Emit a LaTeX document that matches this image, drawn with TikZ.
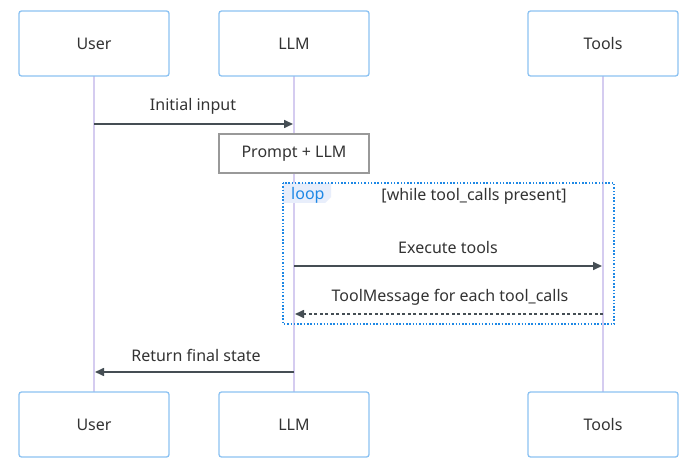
\documentclass[tikz,border=0pt]{standalone}
\usepackage{fontspec}
\setmainfont{Noto Sans}
\usetikzlibrary{arrows.meta}
\definecolor{boxblue}{HTML}{8CC2F2}
\definecolor{life}{HTML}{D5CCF0}
\definecolor{txt}{HTML}{333333}
\definecolor{arr}{HTML}{454E54}
\definecolor{loopblue}{HTML}{1E88E5}
\definecolor{loopbg}{HTML}{E8EEFB}
\begin{document}
\begin{tikzpicture}[x=1pt,y=-1pt,
  actor/.style={draw=boxblue,line width=1.3pt,rounded corners=2.5pt,minimum width=150pt,minimum height=65pt,inner sep=0pt,font=\fontsize{16}{18}\selectfont,text=txt},
  lifeline/.style={draw=life,line width=1.3pt},
  msg/.style={draw=arr,line width=1.6pt,-{Triangle[length=9pt,width=8pt]}},
  dmsg/.style={msg,dash pattern=on 3pt off 2.5pt},
  lbl/.style={font=\fontsize{16}{18}\selectfont,text=txt,inner sep=0pt},
  note/.style={draw=black!40,line width=1.3pt,fill=white,minimum width=150pt,minimum height=39pt,inner sep=0pt,font=\fontsize{16}{18}\selectfont,text=txt}]
\useasboundingbox (0,0) rectangle (698,470);
\fill[white] (0,0) rectangle (698,470);
% lifelines
\coordinate (u1) at (94,76); \coordinate (u2) at (94,392);
\coordinate (l1) at (294,76); \coordinate (l2) at (294,392);
\coordinate (t1) at (603,76); \coordinate (t2) at (603,392);
\draw[lifeline] (u1) -- (u2);
\draw[lifeline] (l1) -- (l2);
\draw[lifeline] (t1) -- (t2);
% actors
\node[actor] (userT) at (94,43.5) {User};
\node[actor] (llmT) at (294,43.5) {LLM};
\node[actor] (toolsT) at (603,43.5) {Tools};
\node[actor] (userB) at (94,424.5) {User};
\node[actor] (llmB) at (294,424.5) {LLM};
\node[actor] (toolsB) at (603,424.5) {Tools};
% initial input
\coordinate (a1s) at (94,124); \coordinate (a1e) at (293,124);
\draw[msg] (a1s) -- (a1e);
\node[lbl] (a1l) at (193,106) {Initial input};
% note
\node[note] (prompt) at (294,153.5) {Prompt + LLM};
% loop
\coordinate (lpA) at (283,183); \coordinate (lpB) at (614,324);
\fill[loopbg] (283,183) -- (331,183) -- (331,197) -- (325,203) -- (283,203) -- cycle;
\draw[loopblue,line width=1.3pt,dash pattern=on 1.5pt off 1.8pt] (lpA) rectangle (lpB);
\node[lbl,text=loopblue,anchor=west] (looplbl) at (291,195) {loop};
\node[lbl] (cond) at (474,196) {[while tool\_calls present]};
% execute tools
\coordinate (a2s) at (294,266); \coordinate (a2e) at (602,266);
\draw[msg] (a2s) -- (a2e);
\node[lbl] (a2l) at (448,248) {Execute tools};
% tool message
\coordinate (a3s) at (603,314); \coordinate (a3e) at (295,314);
\draw[dmsg] (a3s) -- (a3e);
\node[lbl] (a3l) at (450,297) {ToolMessage for each tool\_calls};
% return
\coordinate (a4s) at (294,372); \coordinate (a4e) at (95,372);
\draw[msg] (a4s) -- (a4e);
\node[lbl] (a4l) at (196,355) {Return final state};
\end{tikzpicture}
\end{document}
